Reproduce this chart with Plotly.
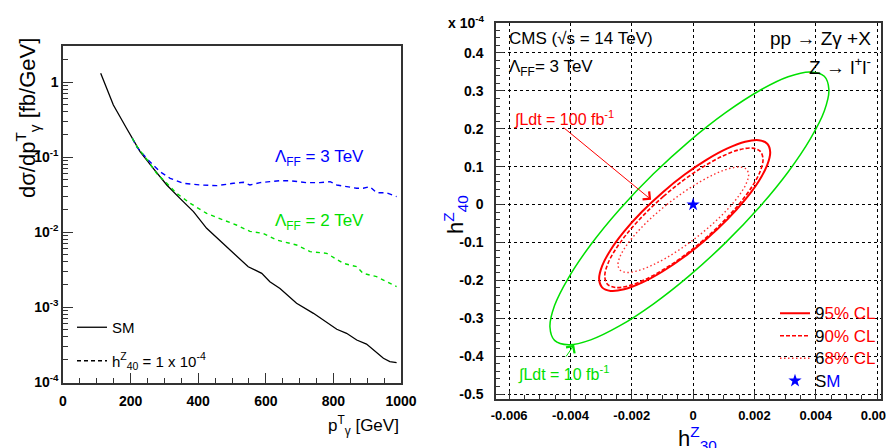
import plotly.graph_objects as go

# The page body keeps its default 8 px margin, so the figure is sized to fill the
# remaining 886 x 440 area of the 894 x 448 window.
PAGE_W, PAGE_H = 894, 448
OFF = 8
W, H = PAGE_W - OFF, PAGE_H - OFF
NARROW = "Liberation Sans Narrow, Liberation Sans, Arial, sans-serif"
REG = "Liberation Sans, Arial, sans-serif"

# ---------------- Left panel: d(sigma)/dpT vs pT ----------------
pt_sm = [111.5, 149, 188, 228, 267, 307, 346, 386, 425, 460, 494, 548, 588, 612, 642,
         691, 741, 770, 810, 839, 869, 898, 918, 948, 967, 987]
dsig_sm = [1.31, 0.493, 0.242, 0.118, 0.0706, 0.0424, 0.0281, 0.0187, 0.0112, 0.0080,
           0.00575, 0.00344, 0.00281, 0.00217, 0.00177, 0.00112, 0.000824, 0.000671,
           0.000505, 0.000446, 0.000363, 0.000321, 0.000267, 0.000207, 0.000187, 0.000181]

pt_ff3 = [205, 218, 252, 287, 317, 356, 405, 455, 504, 534, 553, 583, 612, 642, 672,
          691, 721, 760, 790, 810, 839, 869, 888, 908, 928, 957, 987]
dsig_ff3 = [0.178, 0.137, 0.0912, 0.0637, 0.052, 0.0446, 0.0424, 0.0415, 0.0446, 0.046,
            0.0424, 0.0455, 0.0469, 0.0483, 0.0483, 0.0469, 0.0455, 0.0455, 0.0469,
            0.0424, 0.0402, 0.0383, 0.0383, 0.0402, 0.0334, 0.0334, 0.0296]

pt_ff2 = [205, 218, 252, 277, 307, 336, 376, 425, 474, 513, 553, 592, 632, 691, 731,
          780, 829, 869, 888, 928, 948, 987]
dsig_ff2 = [0.178, 0.14, 0.088, 0.0605, 0.0446, 0.0328, 0.0242, 0.0177, 0.0145, 0.0124,
            0.0102, 0.0096, 0.00782, 0.00671, 0.00547, 0.0052, 0.00383, 0.00345,
            0.00281, 0.00254, 0.00229, 0.00187]

left_x_ticks = [0, 200, 400, 600, 800, 1000]
left_y_ticks = [1e-4, 1e-3, 1e-2, 1e-1, 1]
left_y_labels = ["10<sup>-4</sup>", "10<sup>-3</sup>", "10<sup>-2</sup>", "10<sup>-1</sup>", "1"]
left_y_minor = [k * 10.0 ** e for e in range(-4, 1) for k in range(2, 10)]

# ---------------- Right panel: (h30Z, h40Z) contours ----------------
h30_10fb = [-0.00012, -0.00130, -0.00240, -0.00334, -0.00406, -0.00452, -0.00467, -0.00452,
            -0.00406, -0.00334, -0.00240, -0.00130, -0.00012, 0.00106, 0.00216, 0.00310,
            0.00382, 0.00428, 0.00443, 0.00428, 0.00382, 0.00310, 0.00216, 0.00106, -0.00012]
h40_10fb = [0.1675, 0.0804, -0.0129, -0.1060, -0.1925, -0.2666, -0.3232, -0.3584, -0.3700,
            -0.3570, -0.3203, -0.2625, -0.1875, -0.1004, -0.0071, 0.0860, 0.1725, 0.2466,
            0.3032, 0.3384, 0.3500, 0.3370, 0.3003, 0.2425, 0.1675]

h30_95 = [-0.000275, -0.000997, -0.00167, -0.002248, -0.002691, -0.00297, -0.003065, -0.00297,
          -0.002691, -0.002248, -0.00167, -0.000997, -0.000275, 0.000447, 0.00112, 0.001698,
          0.002141, 0.00242, 0.002515, 0.00242, 0.002141, 0.001698, 0.00112, 0.000447, -0.000275]
h40_95 = [0.0791, 0.0321, -0.0190, -0.0708, -0.1197, -0.1625, -0.1962, -0.2184, -0.2278,
          -0.2236, -0.2061, -0.1766, -0.1371, -0.0901, -0.0390, 0.0128, 0.0617, 0.1045,
          0.1382, 0.1604, 0.1698, 0.1656, 0.1481, 0.1186, 0.0791]

h30_90 = [-0.0003, -0.000968, -0.00159, -0.002125, -0.002535, -0.002793, -0.002881, -0.002793,
          -0.002535, -0.002125, -0.00159, -0.000968, -0.0003, 0.000368, 0.00099, 0.001525,
          0.001935, 0.002193, 0.002281, 0.002193, 0.001935, 0.001525, 0.00099, 0.000368, -0.0003]
h40_90 = [0.065, 0.0215, -0.0258, -0.0737, -0.1189, -0.1585, -0.1897, -0.2102, -0.2189,
          -0.215, -0.1988, -0.1715, -0.135, -0.0915, -0.0443, 0.0037, 0.0489, 0.0885,
          0.1197, 0.1402, 0.1489, 0.145, 0.1288, 0.1015, 0.065]

h30_68 = [-0.00032, -0.000871, -0.001385, -0.001826, -0.002165, -0.002377, -0.00245, -0.002377,
          -0.002165, -0.001826, -0.001385, -0.000871, -0.00032, 0.000231, 0.000745, 0.001186,
          0.001525, 0.001737, 0.00181, 0.001737, 0.001525, 0.001186, 0.000745, 0.000231, -0.00032]
h40_68 = [0.0321, -0.0011, -0.0369, -0.073, -0.1068, -0.1361, -0.1588, -0.1735, -0.179,
          -0.1751, -0.1619, -0.1404, -0.1121, -0.0789, -0.0431, -0.007, 0.0268, 0.0561,
          0.0788, 0.0935, 0.099, 0.0951, 0.0819, 0.0604, 0.0321]

sm_h30 = [0.0]
sm_h40 = [0.0]

right_x_ticks = [-0.006, -0.004, -0.002, 0, 0.002, 0.004, 0.006]
right_x_labels = ["-0.006", "-0.004", "-0.002", "0", "0.002", "0.004", "0.006"]
right_y_ticks = [-0.5, -0.4, -0.3, -0.2, -0.1, 0, 0.1, 0.2, 0.3, 0.4]
right_y_labels = ["-0.5", "-0.4", "-0.3", "-0.2", "-0.1", "0", "0.1", "0.2", "0.3", "0.4"]

# arrows: (text end, contour end)
arrow_100fb = dict(start=(-0.00427, 0.206), end=(-0.00137, 0.013))
arrow_10fb = dict(start=(-0.00418, -0.405), end=(-0.00388, -0.370))

RED = "#ff0000"
GREEN = "#00e000"
BLUE = "#0000ff"

fig = go.Figure()

# left traces
fig.add_trace(go.Scatter(x=pt_sm, y=dsig_sm, mode="lines", name="SM",
                         line=dict(color="black", width=1.3), xaxis="x", yaxis="y",
                         legend="legend", legendgroup="a"))
fig.add_trace(go.Scatter(x=[None], y=[None], mode="lines",
                         name="h<sup>Z</sup><sub>40</sub> = 1 x 10<sup>-4</sup>",
                         line=dict(color="black", width=1.3, dash="4px,3px"), xaxis="x", yaxis="y",
                         legend="legend", legendgroup="b"))
fig.add_trace(go.Scatter(x=pt_ff3, y=dsig_ff3, mode="lines", showlegend=False,
                         line=dict(color=BLUE, width=1.4, dash="5px,4px"), xaxis="x", yaxis="y"))
fig.add_trace(go.Scatter(x=pt_ff2, y=dsig_ff2, mode="lines", showlegend=False,
                         line=dict(color=GREEN, width=1.4, dash="4px,4px"), xaxis="x", yaxis="y"))

# right traces
fig.add_trace(go.Scatter(x=h30_10fb, y=h40_10fb, mode="lines", showlegend=False,
                         line=dict(color=GREEN, width=1.5, shape="spline"), xaxis="x2", yaxis="y2"))
LG = "<span style='font-size:17px'>{}</span>"
fig.add_trace(go.Scatter(x=h30_95, y=h40_95, mode="lines",
                         name=LG.format("<span style='color:black'>9</span>5% CL"),
                         line=dict(color=RED, width=2, shape="spline"), xaxis="x2", yaxis="y2",
                         legend="legend2"))
fig.add_trace(go.Scatter(x=h30_90, y=h40_90, mode="lines",
                         name=LG.format("<span style='color:black'>9</span>0% CL"),
                         line=dict(color=RED, width=1.6, dash="4px,2px", shape="spline"),
                         xaxis="x2", yaxis="y2", legend="legend2"))
fig.add_trace(go.Scatter(x=h30_68, y=h40_68, mode="lines",
                         name=LG.format("<span style='color:black'>6</span>8% CL"),
                         line=dict(color="#ff3030", width=1.4, dash="1.5px,2.5px", shape="spline"),
                         xaxis="x2", yaxis="y2", legend="legend2"))
fig.add_trace(go.Scatter(x=sm_h30, y=sm_h40, mode="markers",
                         name=LG.format("<span style='color:black'>S</span><span style='color:blue'>M</span>"),
                         marker=dict(symbol="star", size=10, color=BLUE),
                         xaxis="x2", yaxis="y2", legend="legend2"))


def px(xp):
    """page pixel x -> paper fraction"""
    return (xp - OFF) / W


def py(yp):
    """page pixel y (from top) -> paper fraction"""
    return 1 - (yp - OFF) / H


tick_font = dict(family=NARROW, size=14, color="black", weight="bold")
axis_common = dict(showline=True, linecolor="#333", linewidth=1.5, mirror=True,
                   ticks="inside", tickcolor="#333", showgrid=False, zeroline=False,
                   tickfont=tick_font, automargin=False, ticklabeloverflow="allow")

annotations = [
    # left panel
    dict(text="dσ/dp<sup>T</sup><sub>γ</sub> [fb/GeV]", x=px(27), y=py(118), textangle=-90,
         font=dict(family=NARROW, size=22, color="black")),
    dict(text="p<sup>T</sup><sub>γ</sub> [GeV]", x=px(401), y=py(425), xanchor="right",
         font=dict(family=NARROW, size=17, color="black")),
    dict(text="Λ<sub>FF</sub> = 3 TeV", x=px(273), y=py(158), xanchor="left",
         font=dict(family=NARROW, size=17, color=BLUE)),
    dict(text="Λ<sub>FF</sub> = 2 TeV", x=px(273), y=py(222), xanchor="left",
         font=dict(family=NARROW, size=17, color=GREEN)),
    # right panel
    dict(text="<b>x 10<sup>-4</sup></b>", x=px(467), y=py(22),
         font=dict(family=NARROW, size=14, color="black")),
    dict(text="CMS (√s = 14 TeV)", x=px(507), y=py(39), xanchor="left",
         font=dict(family=REG, size=17, color="black")),
    dict(text="Λ<sub>FF</sub>= 3 TeV", x=px(507), y=py(68), xanchor="left",
         font=dict(family=REG, size=17, color="black")),
    dict(text="pp → Zγ +X", x=px(873), y=py(39), xanchor="right",
         font=dict(family=REG, size=19, color="black")),
    dict(text="Z → l<sup>+</sup>l<sup>-</sup>", x=px(873), y=py(66), xanchor="right",
         font=dict(family=REG, size=19, color="black")),
    dict(text="∫Ldt = 100 fb<sup>-1</sup>", x=px(512), y=py(118), xanchor="left",
         font=dict(family=REG, size=16, color=RED)),
    dict(text="∫Ldt = 10 fb<sup>-1</sup>", x=px(516), y=py(373), xanchor="left",
         font=dict(family=REG, size=16, color=GREEN)),
    dict(text="h<span style='color:blue'><sup>Z</sup><sub>30</sub></span>", x=px(697), y=py(438),
         font=dict(family=REG, size=22, color="black")),
    dict(text="h<span style='color:blue'><sup>Z</sup><sub>40</sub></span>", x=px(455), y=py(215),
         textangle=-90, font=dict(family=REG, size=22, color="black")),
]
for a in annotations:
    a.setdefault("xref", "paper")
    a.setdefault("yref", "paper")
    a.setdefault("showarrow", False)
    a.setdefault("xanchor", "center")
    a.setdefault("yanchor", "middle")

for arr, col in ((arrow_100fb, RED), (arrow_10fb, GREEN)):
    annotations.append(dict(text="", xref="x2", yref="y2", axref="x2", ayref="y2",
                            x=arr["end"][0], y=arr["end"][1],
                            ax=arr["start"][0], ay=arr["start"][1],
                            showarrow=True, arrowhead=4, arrowsize=2, arrowwidth=1,
                            arrowcolor=col))

right_axis = {**axis_common, "showgrid": True,
              "tickfont": dict(family=NARROW, size=13, color="black", weight="bold")}

fig.update_layout(
    template="none",
    width=W, height=H,
    margin=dict(l=0, r=0, t=0, b=0, autoexpand=False),
    paper_bgcolor="white", plot_bgcolor="white",
    xaxis=dict(domain=[px(63), px(401)], range=[0, 1000], anchor="y",
               tickmode="array", tickvals=left_x_ticks, ticklen=10, ticklabelstandoff=4,
               minor=dict(ticks="inside", ticklen=5, dtick=50, tick0=0, tickcolor="#333"),
               **axis_common),
    yaxis=dict(domain=[py(383), py(46)], type="log", range=[-4.013, 0.48], anchor="x",
               tickmode="array", tickvals=left_y_ticks, ticktext=left_y_labels, ticklen=10,
               minor=dict(ticks="inside", ticklen=5, tickmode="array", tickvals=left_y_minor,
                          tickcolor="#333"),
               **axis_common),
    xaxis2=dict(domain=[px(496), px(881)], range=[-0.00643, 0.00613], anchor="y2",
                tickmode="array", tickvals=right_x_ticks, ticktext=right_x_labels, ticklen=8,
                minor=dict(ticks="inside", ticklen=4, dtick=0.0005, tick0=0, tickcolor="#333"),
                ticklabelstandoff=4,
                **right_axis, gridcolor="black", griddash="dot", gridwidth=1),
    yaxis2=dict(domain=[py(399), py(23)], range=[-0.513, 0.479], anchor="x2",
                tickmode="array", tickvals=right_y_ticks, ticktext=right_y_labels, ticklen=8,
                minor=dict(ticks="inside", ticklen=4, dtick=0.02, tick0=0, tickcolor="#333"),
                ticklabelstandoff=8,
                **{**right_axis, "tickfont": tick_font}, gridcolor="black", griddash="dot",
                gridwidth=1),
    legend=dict(x=px(72), y=py(311), xanchor="left", yanchor="top", bgcolor="rgba(0,0,0,0)",
                font=dict(family=NARROW, size=15, color="black"), traceorder="grouped",
                tracegroupgap=11),
    legend2=dict(x=px(775), y=py(297), xanchor="left", yanchor="top", bgcolor="rgba(0,0,0,0)",
                 font=dict(family=REG, size=15, color=RED), traceorder="normal"),
    annotations=annotations,
    showlegend=True,
)

fig.write_html("out.html")
